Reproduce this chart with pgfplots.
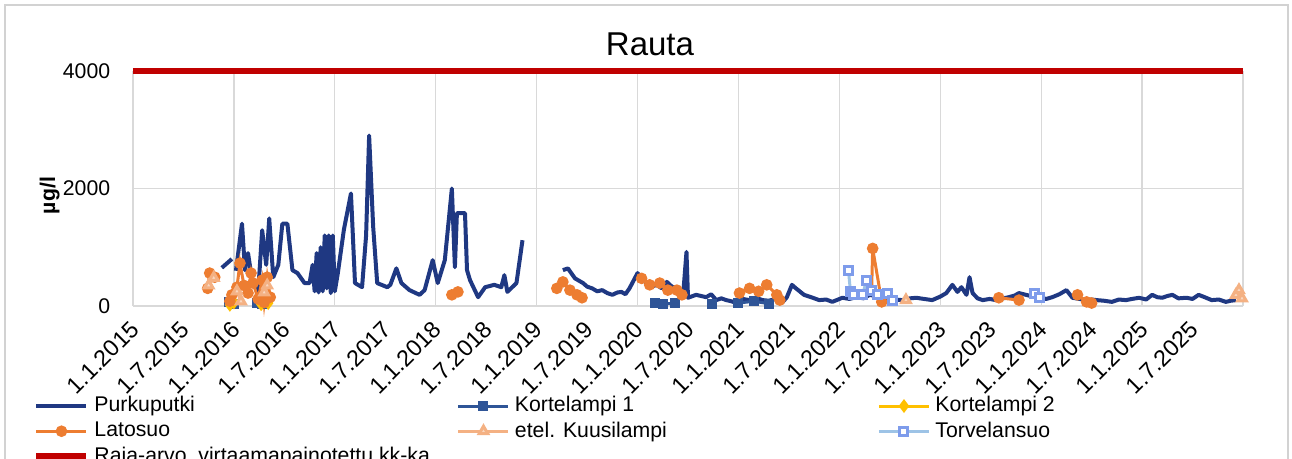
\documentclass[border=0pt]{standalone}
\usepackage{fontspec}
\setmainfont{Liberation Sans}
\usepackage{pgfplots}
\pgfplotsset{compat=1.18}

\definecolor{purku}{RGB}{31,56,130}
\definecolor{kort1}{RGB}{47,85,151}
\definecolor{kort2}{RGB}{255,192,0}
\definecolor{lato}{RGB}{237,125,49}
\definecolor{kuusi}{RGB}{244,177,131}
\definecolor{torvel}{RGB}{157,195,230}
\definecolor{raja}{RGB}{192,0,0}
\definecolor{gridgray}{RGB}{217,217,217}

\begin{document}
\begin{tikzpicture}
\begin{axis}[scale only axis, width=444pt, height=94pt,
  xmin=2015, xmax=2026, ymin=0, ymax=4000, clip=false,
  axis line style={draw=none}, tick style={draw=none},
  font=\fontsize{8.5}{10}\selectfont,
  /pgf/number format/assume math mode=true,
  /pgf/number format/1000 sep={},
  xtick={2015,2016,2017,2018,2019,2020,2021,2022,2023,2024,2025,2026},
  xticklabels={1.1.2015,1.1.2016,1.1.2017,1.1.2018,1.1.2019,1.1.2020,1.1.2021,1.1.2022,1.1.2023,1.1.2024,1.1.2025,{}},
  extra x ticks={2015.5,2016.5,2017.5,2018.5,2019.5,2020.5,2021.5,2022.5,2023.5,2024.5,2025.5},
  extra x tick labels={1.7.2015,1.7.2016,1.7.2017,1.7.2018,1.7.2019,1.7.2020,1.7.2021,1.7.2022,1.7.2023,1.7.2024,1.7.2025},
  extra x tick style={grid=none},
  xticklabel style={font=\fontsize{9.3}{11}\selectfont, rotate=45, anchor=east, xshift=-1.6pt, yshift=-6.1pt},
  ytick={0,2000,4000},
  yticklabel style={xshift=-5.6pt},
  xmajorgrids, ymajorgrids,
  grid style={draw=gridgray, line width=0.5pt},
  title={Rauta},
  title style={font=\fontsize{13.2}{15}\selectfont, at={(0.5,1)}, anchor=base, yshift=0pt, xshift=-15.2pt},
  ylabel={\bfseries µg/l},
  ylabel style={at={(axis description cs:-0.075,0.47)}, anchor=center},
  unbounded coords=jump,
  legend columns=3,
  legend style={at={(0,0)}, anchor=north west, xshift=-40pt, yshift=-34pt,
    draw=none, fill=none, font=\fontsize{8.5}{10}\selectfont,
    cells={anchor=west}, column sep=0pt, row sep=-1.6pt, inner sep=0pt},
  legend image code/.code={\draw[mark repeat=2,mark phase=2,#1] plot coordinates {(0pt,0pt) (10pt,0pt) (20pt,0pt)};},
]
% Purkuputki
\addplot[purku, line width=1.6pt, mark=none, line join=round] coordinates {
(2015.88,650)(2015.98,800)(2015.99,nan)
(2016.02,600)(2016.08,1400)(2016.11,610)(2016.14,900)(2016.18,440)(2016.24,220)(2016.28,1290)(2016.32,700)(2016.35,1490)(2016.39,490)(2016.44,700)(2016.48,1400)(2016.53,1400)(2016.58,610)(2016.63,560)(2016.70,390)(2016.75,390)(2016.78,700)(2016.80,250)(2016.82,900)(2016.84,230)(2016.86,1000)(2016.88,250)(2016.90,1200)(2016.92,300)(2016.94,1200)(2016.96,220)(2016.98,1200)(2017.00,250)(2017.03,560)(2017.09,1300)(2017.16,1915)(2017.20,390)(2017.27,320)(2017.31,1200)(2017.34,2900)(2017.38,1350)(2017.42,390)(2017.52,320)(2017.55,360)(2017.61,640)(2017.66,390)(2017.74,270)(2017.84,190)(2017.89,270)(2017.97,780)(2018.02,390)(2018.09,780)(2018.16,2000)(2018.19,660)(2018.21,1580)(2018.29,1580)(2018.31,610)(2018.34,440)(2018.42,150)(2018.49,320)(2018.58,360)(2018.65,320)(2018.68,525)(2018.71,240)(2018.80,390)(2018.86,1120)(2018.87,nan)
(2019.26,610)(2019.31,640)(2019.38,470)(2019.46,390)(2019.50,330)(2019.55,300)(2019.60,250)(2019.65,270)(2019.70,220)(2019.75,190)(2019.80,230)(2019.84,240)(2019.88,200)(2019.92,300)(2020.00,560)(2020.05,450)(2020.09,390)(2020.14,330)(2020.19,360)(2020.24,300)(2020.29,410)(2020.34,330)(2020.39,300)(2020.45,150)(2020.485,920)(2020.50,140)(2020.58,190)(2020.63,170)(2020.68,150)(2020.73,200)(2020.78,100)(2020.83,130)(2020.88,100)(2020.93,80)(2020.98,50)(2021.04,120)(2021.11,100)(2021.17,140)(2021.24,100)(2021.30,90)(2021.37,120)(2021.44,70)(2021.48,150)(2021.53,360)(2021.57,300)(2021.65,190)(2021.72,150)(2021.80,100)(2021.87,110)(2021.93,70)(2022.03,140)(2022.10,120)(2022.17,150)(2022.24,130)(2022.30,190)(2022.38,160)(2022.45,120)(2022.50,140)(2022.56,110)(2022.62,100)(2022.70,130)(2022.76,140)(2022.84,120)(2022.92,100)(2023.00,160)(2023.06,220)(2023.12,360)(2023.17,240)(2023.21,320)(2023.26,190)(2023.29,490)(2023.32,220)(2023.37,130)(2023.42,100)(2023.49,120)(2023.55,100)(2023.62,130)(2023.68,150)(2023.74,180)(2023.78,220)(2023.85,190)(2023.92,160)(2023.98,150)(2024.05,120)(2024.11,150)(2024.18,200)(2024.25,270)(2024.31,140)(2024.38,120)(2024.45,100)(2024.50,110)(2024.55,100)(2024.62,90)(2024.70,70)(2024.77,110)(2024.84,100)(2024.90,120)(2024.97,140)(2025.04,110)(2025.10,190)(2025.15,150)(2025.20,140)(2025.25,170)(2025.30,190)(2025.36,130)(2025.44,140)(2025.50,120)(2025.56,190)(2025.62,150)(2025.69,100)(2025.76,110)(2025.83,70)(2025.88,90)(2025.93,100)
};
\addlegendentry{\makebox[143pt][l]{Purkuputki}}
% Kortelampi 1
\addplot[kort1, line width=1.2pt, mark=square*, mark size=1.4pt, mark options={fill=kort1}] coordinates {
(2015.95,60)(2016.00,30)(2016.01,nan)(2016.23,50)(2016.28,30)(2016.29,nan)
(2020.17,50)(2020.25,30)(2020.37,50)(2020.38,nan)(2020.74,40)(2020.75,nan)
(2021.00,50)(2021.15,80)(2021.30,40)
};
\addlegendentry{\makebox[143pt][l]{Kortelampi 1}}
% Kortelampi 2
\addplot[kort2, line width=1.2pt, mark=diamond*, mark size=1.8pt, mark options={fill=kort2}] coordinates {
(2015.96,20)(2016.00,60)(2016.01,nan)(2016.27,30)(2016.34,50)
};
\addlegendentry{Kortelampi 2}
% Latosuo
\addplot[lato, line width=1.2pt, mark=*, mark size=1.7pt, mark options={fill=lato}] coordinates {
(2015.74,300)(2015.76,560)(2015.81,490)(2015.82,nan)
(2015.96,80)(2015.98,190)(2016.03,320)(2016.06,730)(2016.10,350)(2016.14,220)(2016.17,560)(2016.19,390)(2016.24,120)(2016.28,440)(2016.30,60)(2016.33,490)(2016.36,150)(2016.37,nan)
(2018.16,190)(2018.22,240)(2018.23,nan)
(2019.20,300)(2019.26,410)(2019.33,270)(2019.40,190)(2019.45,140)(2019.46,nan)
(2020.04,470)(2020.12,360)(2020.22,390)(2020.30,270)(2020.39,270)(2020.44,190)(2020.45,nan)
(2021.01,220)(2021.11,300)(2021.20,250)(2021.28,360)(2021.38,190)(2021.41,100)(2021.42,nan)
(2022.32,270)(2022.33,980)(2022.42,70)(2022.43,nan)
(2023.58,140)(2023.78,100)(2023.79,nan)
(2024.36,190)(2024.45,70)(2024.50,50)
};
\addlegendentry{\makebox[143pt][l]{Latosuo}}
% etel. Kuusilampi
\addplot[kuusi, line width=1.2pt, mark=triangle*, mark size=2pt, mark options={fill=kuusi!50}] coordinates {
(2015.75,350)(2015.80,480)(2015.81,nan)(2016.03,250)(2016.07,80)(2016.08,nan)(2016.30,230)(2016.33,350)(2016.34,nan)
(2022.66,100)(2022.67,nan)(2025.93,190)(2025.96,270)(2025.99,130)
};
\addlegendentry{\makebox[143pt][l]{etel. Kuusilampi}}
% Torvelansuo
\addplot[torvel, line width=1.2pt, mark=square*, mark size=1.6pt, mark options={fill=white, draw=torvel!80!blue}] coordinates {
(2022.09,610)(2022.11,240)(2022.14,190)(2022.23,190)(2022.27,440)(2022.32,270)(2022.38,190)(2022.48,220)(2022.53,100)(2022.54,nan)
(2023.93,220)(2023.98,150)
};
\addlegendentry{Torvelansuo}
% Raja-arvo
\addplot[raja, line width=2.4pt, mark=none] coordinates {(2015,4000)(2026,4000)};
\addlegendentry{Raja-arvo, virtaamapainotettu kk-ka}
\end{axis}
\draw[gray!35, line width=0.6pt] (-51.2pt,-70pt) -- (-51.2pt,120.4pt) -- (462pt,120.4pt) -- (462pt,-70pt);
\pgfresetboundingbox
\path[use as bounding box] (-53.2pt,-61.2pt) rectangle (463.6pt,122.4pt);
\end{tikzpicture}
\end{document}
